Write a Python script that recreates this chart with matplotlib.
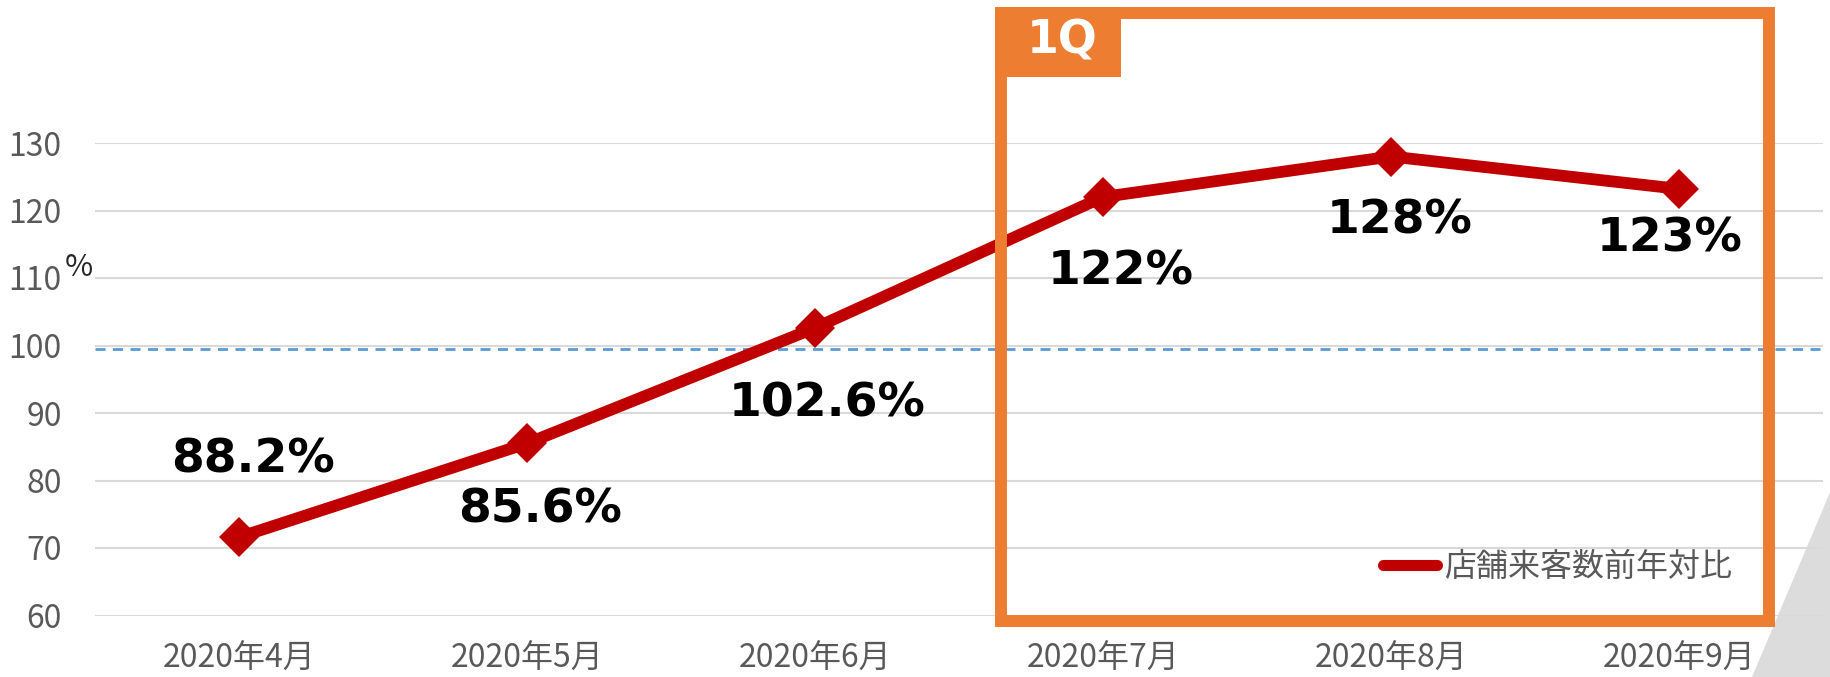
"""Store visitors year-over-year line chart, with the 1Q box drawn over the right half."""
import matplotlib

matplotlib.use("Agg")

import matplotlib.pyplot as plt  # noqa: E402
from matplotlib.lines import Line2D  # noqa: E402
from matplotlib.patches import Polygon, Rectangle  # noqa: E402

months = ["2020年4月", "2020年5月", "2020年6月", "2020年7月", "2020年8月", "2020年9月"]
visitors_yoy = [71.6, 85.5, 102.6, 122.0, 128.0, 123.2]
value_labels = ["88.2%", "85.6%", "102.6%", "122%", "128%", "123%"]
y_ticks = [60, 70, 80, 90, 100, 110, 120, 130]
baseline = 99.5
series_name = "店舗来客数前年対比"
quarter_tag = "1Q"

# label offsets from each marker, in pixels (dx, dy up)
label_offsets = [(14, 77), (13, -67), (12, -76), (18, -75), (9, -65), (-9, -50)]

W, H = 1831, 677
RED = "#C00000"
ORANGE = "#ED7D31"
GRAY = "#595959"

plt.rcParams["font.family"] = ["Noto Sans CJK JP", "DejaVu Sans"]


def fx(px):
    return px / W


def fy(py):
    return 1 - py / H


fig = plt.figure(figsize=(W / 100, H / 100), dpi=100)
ax = fig.add_axes([fx(95), fy(615.5), fx(1823) - fx(95), fy(143) - fy(615.5)])
ax.set_facecolor("none")

xs = list(range(len(months)))
ax.plot(xs, visitors_yoy, color=RED, lw=8.5, marker="D", ms=20, mew=0,
        clip_on=False, zorder=4)
ax.axhline(baseline, color="#5B9BD5", lw=2, dashes=(3.6, 2.7), zorder=3)

for x, v, lab, (dx, dy) in zip(xs, visitors_yoy, value_labels, label_offsets):
    ax.annotate(lab, (x, v), xytext=(dx, dy), textcoords="offset pixels",
                ha="center", va="center", fontsize=34, fontweight="bold",
                family="DejaVu Sans", color="black", zorder=5)

ax.set_xlim(-0.5, 5.5)
ax.set_ylim(60, 130)
ax.set_yticks(y_ticks)
ax.set_xticks(xs)
ax.set_xticklabels(months)
ax.tick_params(length=0, labelsize=23, labelcolor=GRAY)
ax.tick_params(axis="y", pad=24)
ax.tick_params(axis="x", pad=20)  # the original crops these at the bottom edge; keep them whole
ax.grid(axis="y", color="#D9D9D9", lw=1.5)
ax.set_axisbelow(True)
for s in ax.spines.values():
    s.set_visible(False)

fig.text(fx(79), fy(268), "%", ha="center", va="center", fontsize=22, color="#262626")

handle = Line2D([], [], color=RED, lw=8, solid_capstyle="round", marker="D", ms=3)
ax.legend([handle], [series_name], loc="center left", frameon=False,
          bbox_to_anchor=(fx(1383), fy(567)), bbox_transform=fig.transFigure,
          borderpad=0, borderaxespad=0, handlelength=1.7, handletextpad=0.2,
          prop={"size": 23}, labelcolor=GRAY)

# grey photo corner bottom right
fig.add_artist(Polygon([(fx(1831), fy(490)), (fx(1752), fy(677)), (fx(1831), fy(677))],
                       closed=True, transform=fig.transFigure, facecolor="#DCDCDC",
                       edgecolor="none", zorder=-1))

# 1Q box
fig.add_artist(Rectangle((fx(1001), fy(621)), fx(1769) - fx(1001), fy(13) - fy(621),
                         transform=fig.transFigure, fill=False, edgecolor=ORANGE,
                         lw=8.6, joinstyle="miter", zorder=6))
fig.add_artist(Rectangle((fx(995), fy(77)), fx(1121) - fx(995), fy(7) - fy(77),
                         transform=fig.transFigure, facecolor=ORANGE, edgecolor="none",
                         zorder=6))
fig.text(fx(1062), fy(41), quarter_tag, ha="center", va="center", fontsize=33,
         fontweight="bold", family="DejaVu Sans", color="white", zorder=7)

fig.savefig("out.png", dpi=100)
